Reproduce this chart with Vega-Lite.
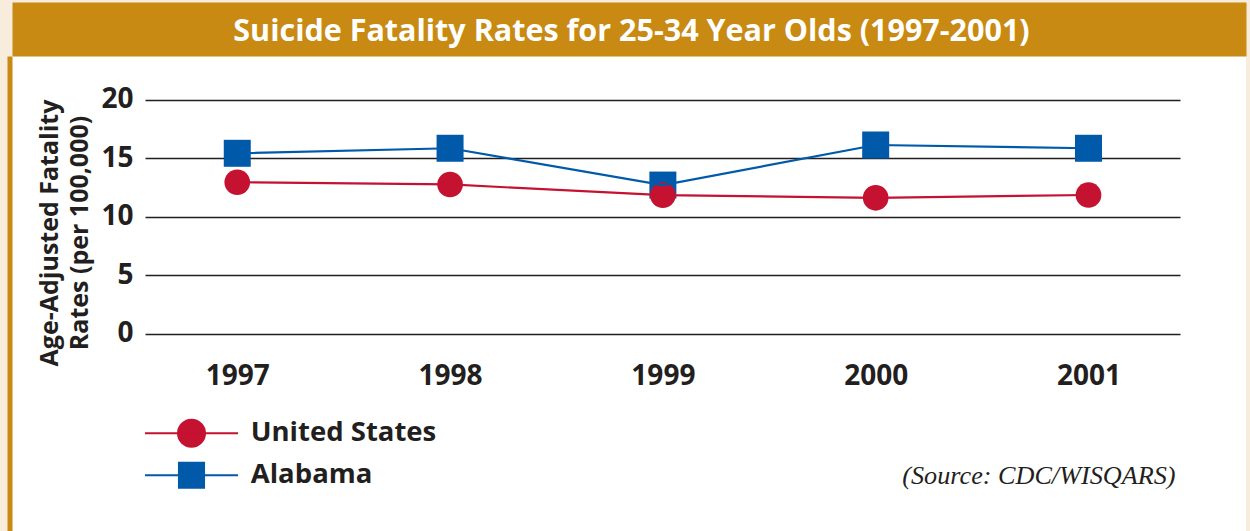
{
  "$schema": "https://vega.github.io/schema/vega-lite/v6.json",
  "width": 1234,
  "height": 475,
  "autosize": {"type": "none"},
  "padding": {"left": 12, "top": 56, "right": 4, "bottom": 0},
  "background": "#f8ecdc",
  "config": {"view": {"fill": "#ffffff", "stroke": null}, "font": "Open Sans"},
  "data": {
    "values": [
      {"year": "1997", "series": "Alabama", "rate": 15.43},
      {"year": "1998", "series": "Alabama", "rate": 15.86},
      {"year": "1999", "series": "Alabama", "rate": 12.71},
      {"year": "2000", "series": "Alabama", "rate": 16.14},
      {"year": "2001", "series": "Alabama", "rate": 15.86},
      {"year": "1997", "series": "United States", "rate": 12.95},
      {"year": "1998", "series": "United States", "rate": 12.76},
      {"year": "1999", "series": "United States", "rate": 11.84},
      {"year": "2000", "series": "United States", "rate": 11.62},
      {"year": "2001", "series": "United States", "rate": 11.86}
    ]
  },
  "encoding": {
    "color": {
      "field": "series",
      "type": "nominal",
      "scale": {"domain": ["United States", "Alabama"], "range": ["#c41230", "#005aa9"]},
      "legend": {
        "title": null,
        "orient": "none",
        "legendX": 165.75,
        "legendY": 363.5,
        "direction": "vertical",
        "padding": 0,
        "symbolSize": 196,
        "symbolStrokeWidth": 2,
        "labelFont": "Open Sans",
        "labelFontSize": 27.5,
        "labelFontWeight": "bold",
        "labelColor": "#231f20",
        "labelOffset": 45.5,
        "labelLimit": 400,
        "rowPadding": 7,
        "encode": {
          "symbols": {
            "update": {
              "shape": {"signal": "datum.value === 'Alabama' ? 'M-6.643,0H6.643M-1.794,-1.794H1.794V1.794H-1.794Z' : 'M-6.643,0H6.643M1.93,0A1.93,1.93,0,1,1,-1.93,0A1.93,1.93,0,1,1,1.93,0Z'"},
              "fill": {"scale": "color", "field": "value"},
              "stroke": {"scale": "color", "field": "value"},
              "strokeWidth": {"value": 2},
              "size": {"value": 196},
              "opacity": {"value": 1}
            }
          }
        }
      }
    }
  },
  "layer": [
    {
      "mark": {"type": "point", "filled": true, "opacity": 1},
      "encoding": {
        "x": {
          "field": "year",
          "type": "ordinal",
          "scale": {"type": "point", "padding": 0.8993, "align": 0.5885},
          "axis": {
            "orient": "top",
            "offset": 27,
            "domain": true,
            "domainColor": "#c88a12",
            "domainWidth": 54,
            "ticks": false,
            "labels": false,
            "grid": false,
            "title": "Suicide Fatality Rates for 25-34 Year Olds (1997-2001)",
            "titleColor": "#ffffff",
            "titleFont": "Open Sans",
            "titleFontSize": 30.5,
            "titleFontWeight": "bold",
            "titleY": 11,
            "titleX": 619,
            "titleAlign": "center",
            "titleBaseline": "alphabetic",
            "titlePadding": 0
          }
        },
        "y": {
          "field": "rate",
          "type": "quantitative",
          "scale": {"domain": [-16.91, 23.76], "nice": false, "zero": false},
          "axis": {
            "orient": "right",
            "offset": -1101,
            "values": [0, 5, 10, 15, 20],
            "domain": false,
            "grid": false,
            "ticks": true,
            "tickSize": 1035,
            "tickColor": "#231f20",
            "tickWidth": 1.5,
            "labels": true,
            "labelAlign": "right",
            "labelPadding": -1047,
            "labelFont": "Open Sans",
            "labelFontSize": 28,
            "labelFontWeight": "bold",
            "labelColor": "#231f20",
            "labelBaseline": "middle",
            "labelOverlap": false,
            "labelBound": false,
            "title": null
          }
        },
        "shape": {
          "condition": {"test": "datum.series === 'Alabama'", "value": "square"},
          "value": "circle"
        },
        "size": {
          "condition": {"test": "datum.series === 'Alabama'", "value": 729},
          "value": 660
        }
      }
    },
    {
      "mark": {"type": "line", "strokeWidth": 2.2},
      "encoding": {
        "x": {
          "field": "year",
          "type": "ordinal",
          "scale": {"type": "point", "padding": 0.8993, "align": 0.5885},
          "axis": {
            "orient": "bottom",
            "offset": -197.5,
            "domain": false,
            "ticks": false,
            "grid": false,
            "labelAngle": 0,
            "labelFont": "Open Sans",
            "labelFontSize": 28,
            "labelFontWeight": "bold",
            "labelColor": "#231f20",
            "labelBaseline": "alphabetic",
            "labelPadding": 50.5,
            "title": "(Source: CDC/WISQARS)",
            "titleFont": "Liberation Serif",
            "titleFontStyle": "italic",
            "titleFontWeight": "normal",
            "titleFontSize": 26.2,
            "titleColor": "#231f20",
            "titleX": 1163,
            "titleY": 149.5,
            "titleAlign": "right",
            "titleBaseline": "alphabetic"
          }
        },
        "y": {
          "field": "rate",
          "type": "quantitative",
          "scale": {"domain": [-16.91, 23.76], "nice": false, "zero": false},
          "axis": {
            "orient": "left",
            "offset": 2.5,
            "domain": true,
            "domainColor": "#c88a12",
            "domainWidth": 5,
            "ticks": false,
            "labels": false,
            "grid": false,
            "title": ["Age-Adjusted Fatality", "Rates (per 100,000)"],
            "titleFont": "Open Sans",
            "titleFontSize": 25,
            "titleFontWeight": "bold",
            "titleColor": "#231f20",
            "titleAngle": 270,
            "titleX": 47.5,
            "titleY": 176.5,
            "titleAlign": "center",
            "titleBaseline": "alphabetic",
            "titleLineHeight": 30
          }
        }
      }
    }
  ],
  "resolve": {"axis": {"x": "independent", "y": "independent"}}
}
